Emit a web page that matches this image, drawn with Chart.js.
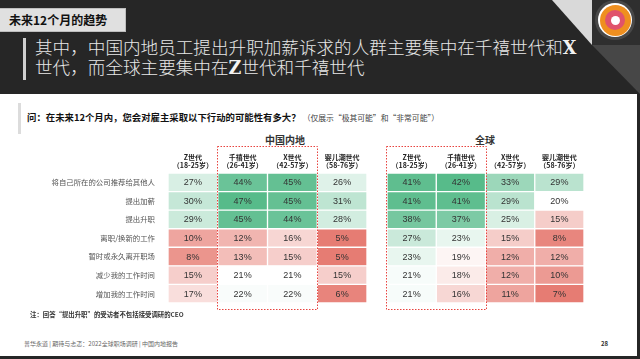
<!DOCTYPE html>
<html>
<head>
<meta charset="utf-8">
<script src="https://cdn.jsdelivr.net/npm/chart.js@4.4.1/dist/chart.umd.min.js"></script>
<style>
  body { margin: 0; width: 640px; height: 359px; background: #262626; position: relative; overflow: hidden; font-family: "Noto Sans CJK SC", "Noto Sans", sans-serif; }
  .abs { position: absolute; }
  #panel { left: 0; top: 94px; width: 637px; height: 262px; background: #fff; }
  #tag { left: 0; top: 8px; width: 126px; height: 24px; background: #e0e0e0; border: 1px solid #bdbdbd; border-left: none; box-sizing: border-box; font-weight: bold; font-size: 12px; line-height: 22px; padding-left: 9px; color: #111; }
  #titleBar { left: 23px; top: 38px; width: 3px; height: 42px; background: #cfcfcf; }
  #title { left: 35px; top: 37px; font-size: 17.6px; line-height: 19px; color: #e8e8e8; font-weight: 300; white-space: nowrap; }
  #title b { font-family: "DejaVu Serif", serif; font-weight: bold; color: #f2f2f2; }
  #tri1 { left: 552px; top: 0; width: 40px; height: 45px; background: #d9d9d9; clip-path: polygon(0 0, 100% 0, 100% 100%); }
  #logoBox { left: 592px; top: 0; width: 48px; height: 45px; background: #2f2f2f; }
  #tri2 { left: 592px; top: 45px; width: 48px; height: 49px; background: #474747; clip-path: polygon(0 0, 100% 0, 100% 100%); }
  .ring { border-radius: 50%; }
  #qBar { left: 18px; top: 103px; width: 3px; height: 31px; background: #dcdcdc; }
  #question { left: 27px; top: 110px; font-size: 9.4px; font-weight: bold; color: #111; white-space: nowrap; }
  #question span { font-weight: normal; font-size: 7.8px; color: #444; }
  .grp { top: 132px; font-size: 10px; font-weight: bold; color: #333; transform: translateX(-50%); }
  #note { left: 30px; top: 310px; font-size: 6.4px; color: #333; font-weight: bold; white-space: nowrap; }
  #footer { left: 24px; top: 339px; font-size: 6px; color: #666; white-space: nowrap; }
  #page { left: 601px; top: 339px; font-size: 6px; color: #333; font-weight: bold; }
</style>
</head>
<body>
<div class="abs" id="panel"></div>
<div class="abs" id="tag">未来12个月的趋势</div>
<div class="abs" id="titleBar"></div>
<div class="abs" id="title">其中，中国内地员工提出升职加薪诉求的人群主要集中在千禧世代和<b>X</b><br>世代，而全球主要集中在<b>Z</b>世代和千禧世代</div>
<div class="abs" id="tri1"></div>
<div class="abs" id="logoBox"></div>
<div class="abs ring" style="left:595px;top:0px;width:40px;height:40px;background:#484848;"></div>
<div class="abs ring" style="left:598px;top:3px;width:34px;height:34px;background:#ffffff;"></div>
<div class="abs ring" style="left:599.5px;top:4.5px;width:31px;height:31px;background:#ef8f1f;"></div>
<div class="abs ring" style="left:605px;top:10px;width:20px;height:20px;background:#e0536b;"></div>
<div class="abs ring" style="left:610.5px;top:15.5px;width:9px;height:9px;background:#ffffff;"></div>
<div class="abs" id="tri2"></div>
<div class="abs" id="qBar"></div>
<div class="abs" id="question">问：在未来12个月内，您会对雇主采取以下行动的可能性有多大？ <span>（仅展示“极其可能”和“非常可能”）</span></div>
<div class="abs grp" style="left:285px;">中国内地</div>
<div class="abs grp" style="left:485px;">全球</div>
<canvas class="abs" id="chinaChart" width="380" height="190" style="left:0;top:130px;"></canvas>
<canvas class="abs" id="globalChart" width="220" height="190" style="left:380px;top:130px;"></canvas>
<div class="abs" id="note">注：回答“提出升职”的受访者不包括接受调研的CEO</div>
<div class="abs" id="footer">普华永道 | 期待与忐忑：2022全球职场调研 | 中国内地报告</div>
<div class="abs" id="page">28</div>

<script>
// 行（行动）
const rowLabels = ['将自己所在的公司推荐给其他人', '提出加薪', '提出升职', '离职/换新的工作', '暂时或永久离开职场', '减少我的工作时间', '增加我的工作时间'];
const genNames = ['Z世代', '千禧世代', 'X世代', '婴儿潮世代'];
const genAges = ['（18-25岁）', '（26-41岁）', '（42-57岁）', '（58-76岁）'];

// 中国内地 (%)
const chinaZ = [27, 30, 29, 10, 8, 15, 17];
const chinaMillennial = [44, 47, 45, 12, 13, 21, 22];
const chinaX = [45, 45, 44, 16, 15, 21, 22];
const chinaBoomer = [26, 31, 28, 5, 5, 15, 6];

// 全球 (%)
const globalZ = [41, 41, 38, 27, 23, 21, 21];
const globalMillennial = [42, 41, 37, 23, 19, 18, 16];
const globalX = [33, 29, 25, 15, 12, 12, 11];
const globalBoomer = [29, 20, 15, 8, 12, 10, 7];

const RED = [230, 124, 115];
const GREEN = [87, 187, 138];

function mix(c, t) {
    t = Math.max(0, Math.min(1, t));
    const r = Math.round(255 + (c[0] - 255) * t);
    const g = Math.round(255 + (c[1] - 255) * t);
    const b = Math.round(255 + (c[2] - 255) * t);
    return `rgb(${r},${g},${b})`;
}

function heatColor(v, lo, mid, hi) {
    if (v >= mid) return mix(GREEN, (v - mid) / (hi - mid));
    return mix(RED, (mid - v) / (mid - lo));
}

function makeTable(canvasId, columns, lo, mid, hi, showLabels, boxFrom, boxTo, pad) {
    const ctx = document.getElementById(canvasId).getContext('2d');

    const tablePlugin = {
        id: 'tableDeco',
        afterDatasetsDraw(chart) {
            const c = chart.ctx;
            const area = chart.chartArea;
            const xs = chart.scales.x;
            c.save();
            // percentages in cells
            c.font = '9px "Liberation Sans", Arial, sans-serif';
            c.fillStyle = '#333';
            c.textAlign = 'center';
            c.textBaseline = 'middle';
            chart.data.datasets.forEach((ds, di) => {
                chart.getDatasetMeta(di).data.forEach((el, i) => {
                    const p = el.getCenterPoint();
                    c.fillText(columns[di][i] + '%', p.x, p.y + 0.5);
                });
            });
            // column headers
            c.font = 'bold 7px "Noto Sans CJK SC", sans-serif';
            c.fillStyle = '#222';
            genNames.forEach((g, i) => {
                const x = xs.getPixelForValue(i + 0.5);
                c.fillText(g, x, area.top - 16);
                c.fillText(genAges[i], x, area.top - 8);
            });
            // dotted highlight box
            c.strokeStyle = '#e8433f';
            c.lineWidth = 1;
            c.setLineDash([1.5, 1.5]);
            const x0 = Math.round(xs.getPixelForValue(boxFrom)) - 0.5;
            const x1 = Math.round(xs.getPixelForValue(boxTo)) + 0.5;
            c.strokeRect(x0, area.top - 26.5, x1 - x0, area.bottom - area.top + 33);
            c.restore();
        }
    };

    return new Chart(ctx, {
        type: 'bar',
        data: {
            labels: rowLabels,
            datasets: columns.map((col, i) => ({
                label: genNames[i],
                data: col.map(() => 1),
                backgroundColor: col.map(v => heatColor(v, lo, mid, hi)),
                borderColor: '#ffffff',
                borderWidth: 1,
                borderSkipped: false,
                categoryPercentage: 1,
                barPercentage: 1
            }))
        },
        options: {
            indexAxis: 'y',
            responsive: false,
            animation: false,
            layout: { padding: pad },
            plugins: {
                legend: { display: false },
                tooltip: { enabled: false }
            },
            scales: {
                x: { stacked: true, display: false, min: 0, max: 4 },
                y: {
                    stacked: true,
                    display: showLabels,
                    grid: { display: false },
                    border: { display: false },
                    ticks: {
                        color: '#555',
                        padding: 5,
                        font: { size: 7.4, family: '"Noto Sans CJK SC", sans-serif' }
                    },
                    afterFit: (s) => { if (showLabels) s.width = 168; }
                }
            }
        },
        plugins: [tablePlugin]
    });
}

makeTable('chinaChart', [chinaZ, chinaMillennial, chinaX, chinaBoomer], 5, 21, 47, true, 1, 3,
    { top: 43, bottom: 17, left: 0, right: 13 });
makeTable('globalChart', [globalZ, globalMillennial, globalX, globalBoomer], 7, 20, 42, false, 0, 2,
    { top: 43, bottom: 17, left: 7, right: 16 });
</script>
</body>
</html>
